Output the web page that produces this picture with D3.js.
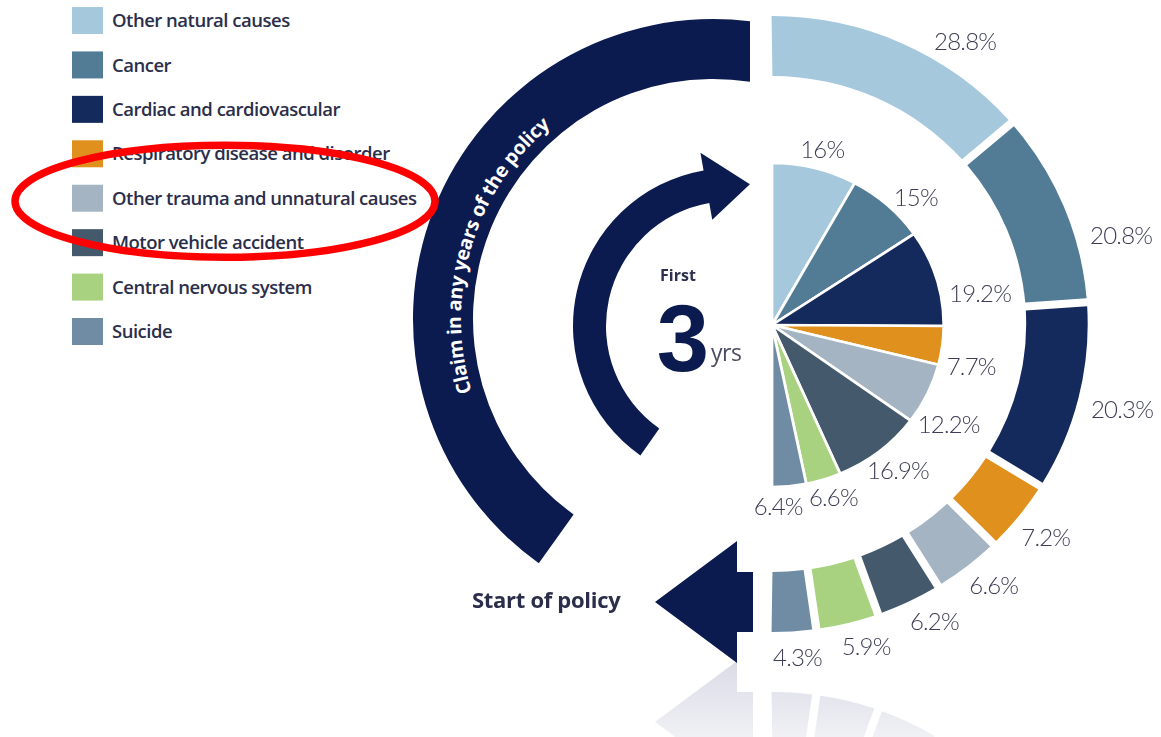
<!DOCTYPE html>
<html>
<head>
<meta charset="utf-8">
<script src="https://cdn.jsdelivr.net/npm/d3@7"></script>
<style>
  html, body { margin: 0; padding: 0; background: #fff; }
  svg { display: block; }
</style>
</head>
<body>
<svg id="chart" width="1161" height="737"></svg>
<script>
// Causes of claim, in legend order
const categories = [
  "Other natural causes",
  "Cancer",
  "Cardiac and cardiovascular",
  "Respiratory disease and disorder",
  "Other trauma and unnatural causes",
  "Motor vehicle accident",
  "Central nervous system",
  "Suicide"
];
// Share of claims (%) in any year of the policy (outer ring)
const anyYearsShare = [28.8, 20.8, 20.3, 7.2, 6.6, 6.2, 5.9, 4.3];
// Share of claims (%) in the first three years (inner half pie)
const firstThreeYearsShare = [16, 15, 19.2, 7.7, 12.2, 16.9, 6.6, 6.4];

const palette = ["#a5c8dc", "#527b95", "#14295c", "#e0901d", "#a4b4c3", "#45596d", "#a8d27f", "#6f8ca4"];
const navy = "#0b1a4f";
const inkDark = "#2b2e4a";
const inkLabel = "#3d3d55";

const svg = d3.select("#chart");
const color = d3.scaleOrdinal().domain(categories).range(palette);

const deg = Math.PI / 180;
// polar helper: angle measured clockwise from 12 o'clock
const polar = (c, r, a, sx = 1) => [c.cx + sx * r * Math.sin(a), c.cy - r * Math.cos(a)];

// ---------- layout ----------
const ring = { cx: 772, cy: 324, r0: 248, r1: 308, sx: 1.025 };
const half = { cx: 772, cy: 325, r: 162, sx: 1.06 };
const bigArc = { cx: 713, cy: 319, r0: 240, r1: 300, start: -144.5 * deg, endX: 750 };
const smallArc = { cx: 731, cy: 326, r0: 125, r1: 158, start: -145 * deg, end: -10 * deg };

const defs = svg.append("defs");

// ---------- outer ring (any year) ----------
const padW = 8, padR = 278, padA = padW / padR;
const ringPie = d3.pie().sort(null).value(d => d.v)
  .startAngle(-padA / 2).endAngle(Math.PI + padA / 2).padAngle(padA);
const ringData = ringPie(categories.map((c, i) => ({ c, v: anyYearsShare[i] })));
const ringArc = d3.arc().innerRadius(ring.r0).outerRadius(ring.r1).padRadius(padR);

// "Start of policy" arrow, aligned with the bottom of the ring band
function startArrowPoints() {
  const top = ring.cy + ring.r0, bot = ring.cy + ring.r1, mid = (top + bot) / 2;
  const xr = ring.cx - 19, xb = ring.cx - 35, head = 61, len = 82;
  return [[xr, top], [xb, top], [xb, mid - head], [xb - len, mid], [xb, mid + head], [xb, bot], [xr, bot]];
}

// ---------- reflection under the bottom of the graphic ----------
const mirrorY = ring.cy + ring.r1 + 30;
const grad = defs.append("linearGradient").attr("id", "fadeGrad")
  .attr("gradientUnits", "userSpaceOnUse").attr("x1", 0).attr("x2", 0)
  .attr("y1", mirrorY).attr("y2", 737);
grad.append("stop").attr("offset", 0).attr("stop-color", "#fff").attr("stop-opacity", 0.85);
grad.append("stop").attr("offset", 1).attr("stop-color", "#fff").attr("stop-opacity", 0.35);
defs.append("mask").attr("id", "fadeMask")
  .append("rect").attr("x", 0).attr("y", mirrorY).attr("width", 1161).attr("height", 737 - mirrorY)
  .attr("fill", "url(#fadeGrad)");

const refl = svg.append("g").attr("mask", "url(#fadeMask)")
  .append("g").attr("transform", `translate(0,${2 * mirrorY}) scale(1,-1)`);
refl.append("g").attr("transform", `translate(${ring.cx},${ring.cy}) scale(${ring.sx},1)`)
  .selectAll("path").data(ringData).join("path")
  .attr("d", ringArc).attr("fill", "#d4d5e2");
refl.append("polygon").attr("points", startArrowPoints().join(" ")).attr("fill", "#d4d5e2");

// ---------- big arc: claim in any years of the policy ----------
{
  const c = bigArc;
  const ao = Math.asin((c.endX - c.cx) / c.r1), ai = Math.asin((c.endX - c.cx) / c.r0);
  const p = d3.path();
  const s = polar(c, c.r1, c.start);
  p.moveTo(s[0], s[1]);
  p.arc(c.cx, c.cy, c.r1, c.start - Math.PI / 2, ao - Math.PI / 2, false);
  const e = polar(c, c.r0, ai);
  p.lineTo(e[0], e[1]);
  p.arc(c.cx, c.cy, c.r0, ai - Math.PI / 2, c.start - Math.PI / 2, true);
  p.closePath();
  svg.append("path").attr("d", p.toString()).attr("fill", navy);

  // baseline for the curved caption
  const rb = 252, a0 = -160 * deg, a1 = 10 * deg;
  const tp = d3.path();
  const q = polar(c, rb, a0);
  tp.moveTo(q[0], q[1]);
  tp.arc(c.cx, c.cy, rb, a0 - Math.PI / 2, a1 - Math.PI / 2, false);
  defs.append("path").attr("id", "captionPath").attr("d", tp.toString());
  svg.append("text")
    .attr("font-family", "'Open Sans', 'Noto Sans', sans-serif")
    .attr("font-weight", 700).attr("font-size", 19.5).attr("fill", "#fff")
    .attr("letter-spacing", -0.3)
    .append("textPath").attr("href", "#captionPath")
    .attr("startOffset", ((-73.5 * deg - a0) * rb).toFixed(1))
    .attr("text-anchor", "middle")
    .text("Claim in any years of the policy");
}

// ---------- curved arrow: first 3 years ----------
{
  const c = smallArc;
  const p = d3.path();
  const s = polar(c, c.r1, c.start);
  p.moveTo(s[0], s[1]);
  p.arc(c.cx, c.cy, c.r1, c.start - Math.PI / 2, c.end - Math.PI / 2, false);
  const h1 = polar(c, 176, c.end), tip = polar(c, 143, 7.6 * deg), h2 = polar(c, 108, c.end), b = polar(c, c.r0, c.end);
  p.lineTo(h1[0], h1[1]); p.lineTo(tip[0], tip[1]); p.lineTo(h2[0], h2[1]); p.lineTo(b[0], b[1]);
  p.arc(c.cx, c.cy, c.r0, c.end - Math.PI / 2, c.start - Math.PI / 2, true);
  p.closePath();
  svg.append("path").attr("d", p.toString()).attr("fill", navy);
}

// ---------- ring segments ----------
svg.append("g").attr("transform", `translate(${ring.cx},${ring.cy}) scale(${ring.sx},1)`)
  .selectAll("path").data(ringData).join("path")
  .attr("d", ringArc).attr("fill", d => color(d.data.c));

svg.append("polygon").attr("points", startArrowPoints().join(" ")).attr("fill", navy);

// ---------- inner half pie ----------
const halfPie = d3.pie().sort(null).value(d => d.v).startAngle(0).endAngle(Math.PI);
const halfData = halfPie(categories.map((c, i) => ({ c, v: firstThreeYearsShare[i] })));
const halfArc = d3.arc().innerRadius(0).outerRadius(half.r);
svg.append("g").attr("transform", `translate(${half.cx},${half.cy}) scale(${half.sx},1)`)
  .selectAll("path").data(halfData).join("path")
  .attr("d", halfArc).attr("fill", d => color(d.data.c))
  .attr("stroke", "#fff").attr("stroke-width", 2.6).attr("stroke-linejoin", "round");

// ---------- percentage labels ----------
function placeLabels(data, center, radius, sx, nudges) {
  const g = svg.append("g")
    .attr("font-family", "Lato, 'Open Sans', sans-serif")
    .attr("font-weight", 300).attr("font-size", 24).attr("fill", inkLabel)
    .attr("letter-spacing", -0.8);
  data.forEach((d, i) => {
    const t = g.append("text").attr("text-anchor", "middle").attr("dy", "0.36em").text(`${d.data.v}%`);
    const w = t.node().getComputedTextLength(), h = 22;
    const a = (d.startAngle + d.endAngle) / 2 + nudges[i] * deg;
    const [px, py] = polar(center, radius, a, sx);
    t.attr("x", px + (w / 2) * Math.sin(a)).attr("y", py - (h / 2) * Math.cos(a));
  });
}
placeLabels(ringData, ring, ring.r1 + 15, ring.sx, [8, 7, 1, 1, -0.5, -1.5, -1.5, -0.5]);
placeLabels(halfData, half, half.r + 8, half.sx, [0, 3, 7, 6, 8, 2, 0, 4]);

// ---------- centre caption: "First 3 yrs" ----------
const caption = svg.append("text").attr("font-family", "'Open Sans', 'Noto Sans', sans-serif");
caption.append("tspan").attr("x", 678).attr("y", 281).attr("text-anchor", "middle")
  .attr("font-weight", 700).attr("font-size", 16).attr("fill", "#2d3150").text("First");
caption.append("tspan").attr("x", 683).attr("y", 371).attr("text-anchor", "middle")
  .attr("font-family", "'Liberation Sans', Arial, sans-serif")
  .attr("font-weight", 700).attr("font-size", 94).attr("fill", navy).text("3");
caption.append("tspan").attr("x", 711).attr("y", 361).attr("text-anchor", "start")
  .attr("font-weight", 400).attr("font-size", 23).attr("fill", "#4b4b62").attr("letter-spacing", -0.5).text("yrs");

svg.append("text").attr("x", 472).attr("y", 608)
  .attr("font-family", "'Open Sans', 'Noto Sans', sans-serif")
  .attr("font-weight", 700).attr("font-size", 22).attr("fill", inkDark).attr("letter-spacing", -0.3)
  .text("Start of policy");

// ---------- legend ----------
const legend = svg.append("g").attr("font-family", "'Open Sans', 'Noto Sans', sans-serif");
const rowY = d3.scaleLinear().domain([0, categories.length - 1]).range([20.5, 331.5]);
const item = legend.selectAll("g").data(categories).join("g")
  .attr("transform", (d, i) => `translate(0,${rowY(i)})`);
item.append("rect").attr("x", 72).attr("y", -13.5).attr("width", 31).attr("height", 27)
  .attr("fill", d => color(d));
item.append("text").attr("x", 112).attr("dy", "0.36em")
  .attr("font-weight", 600).attr("font-size", 18.5).attr("letter-spacing", -0.5)
  .attr("fill", inkDark).text(d => d);

// highlight around the "Other trauma and unnatural causes" entry
const hi = categories.indexOf("Other trauma and unnatural causes");
svg.append("ellipse").attr("cx", 225).attr("cy", rowY(hi) + 3).attr("rx", 210).attr("ry", 56)
  .attr("fill", "none").attr("stroke", "#ff0000").attr("stroke-width", 7.5);
</script>
</body>
</html>
